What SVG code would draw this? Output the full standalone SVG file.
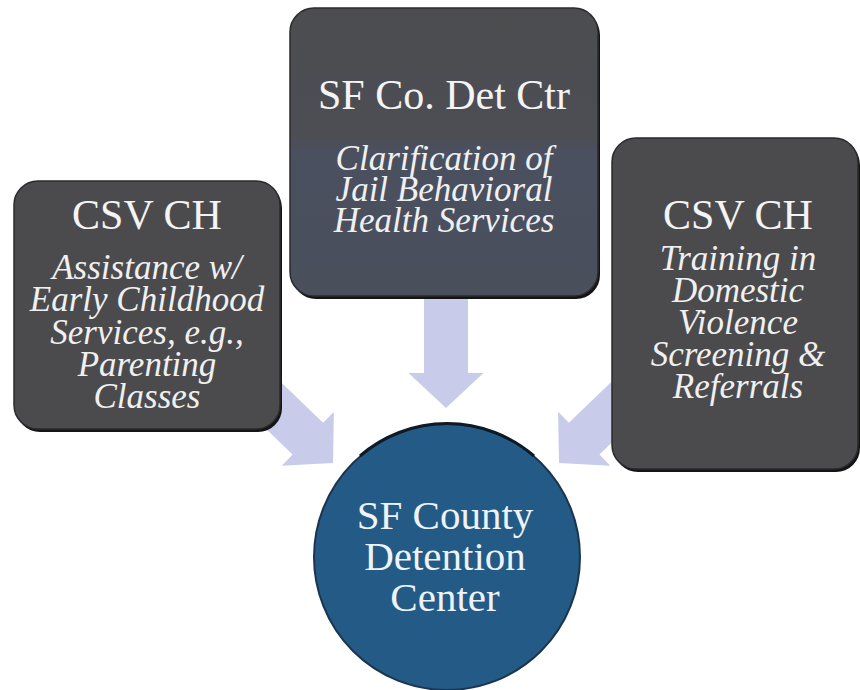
<svg xmlns="http://www.w3.org/2000/svg" width="860" height="690" viewBox="0 0 860 690">
  <defs>
    <style>
      .box { fill: #4b4b4e; stroke: #2b2b2d; stroke-width: 1.5; }
      .shade { fill: #141414; }
      text { font-family: "Liberation Serif", "Times New Roman", serif; text-anchor: middle; }
      .title { font-size: 42px; fill: #f4f4f4; }
      .sub { font-size: 35px; font-style: italic; fill: #f0f0f0; }
      .hub { font-size: 41px; fill: #eef3f8; }
      .arrow { fill: #c8cbea; }
    </style>
    <linearGradient id="midFill" x1="0" y1="0" x2="0" y2="1">
      <stop offset="0" stop-color="#4d4d50"/>
      <stop offset="0.45" stop-color="#4c4e54"/>
      <stop offset="0.5" stop-color="#4b5060"/>
      <stop offset="1" stop-color="#4a4f5c"/>
    </linearGradient>
    <!-- block arrow pointing along +x, tip at origin -->
    <path id="blockArrow" d="M0,0 L-35,-37.5 L-35,-22 L-135,-22 L-135,22 L-35,22 L-35,37.5 Z"/>
  </defs>

  <rect width="860" height="690" fill="#ffffff"/>

  <g id="connectors">
    <path class="arrow" d="M446,408 L408.5,373 L424,373 L424,297 L468,297 L468,373 L483.5,373 Z"/>
    <use href="#blockArrow" class="arrow" transform="translate(333,463) rotate(44)"/>
    <use href="#blockArrow" class="arrow" transform="translate(559,463) rotate(136)"/>
  </g>

  <g id="node-early-childhood">
    <rect class="shade" x="16" y="184" width="266" height="248" rx="24"/>
    <rect class="box" x="14" y="181" width="266" height="248" rx="24"/>
    <text class="title" x="147" y="229">CSV CH</text>
    <text class="sub" x="147" y="279">Assistance w/</text>
    <text class="sub" x="147" y="311">Early Childhood</text>
    <text class="sub" x="147" y="344">Services, e.g.,</text>
    <text class="sub" x="147" y="376">Parenting</text>
    <text class="sub" x="147" y="408">Classes</text>
  </g>

  <g id="node-det-ctr">
    <rect class="shade" x="292" y="11" width="308" height="288" rx="24"/>
    <rect class="box" x="290" y="8" width="308" height="288" rx="24" style="fill:url(#midFill)"/>
    <text class="title" x="444" y="109">SF Co. Det Ctr</text>
    <text class="sub" x="444" y="170">Clarification of</text>
    <text class="sub" x="444" y="201">Jail Behavioral</text>
    <text class="sub" x="444" y="232">Health Services</text>
  </g>

  <g id="node-domestic-violence">
    <rect class="shade" x="614" y="141" width="246" height="331" rx="24"/>
    <rect class="box" x="612" y="138" width="246" height="331" rx="24"/>
    <text class="title" x="738" y="229">CSV CH</text>
    <text class="sub" x="738" y="270">Training in</text>
    <text class="sub" x="738" y="302">Domestic</text>
    <text class="sub" x="738" y="334">Violence</text>
    <text class="sub" x="738" y="366">Screening &amp;</text>
    <text class="sub" x="738" y="398">Referrals</text>
  </g>

  <g id="node-detention-center">
    <circle cx="447" cy="557" r="133" fill="#235a86" stroke="#1b3550" stroke-width="2"/>
    <path d="M360,456 A133,133 0 0 1 534,456" fill="none" stroke="#0e1a26" stroke-width="3"/>
    <text class="hub" x="445" y="529">SF County</text>
    <text class="hub" x="445" y="570">Detention</text>
    <text class="hub" x="445" y="611">Center</text>
  </g>
</svg>
